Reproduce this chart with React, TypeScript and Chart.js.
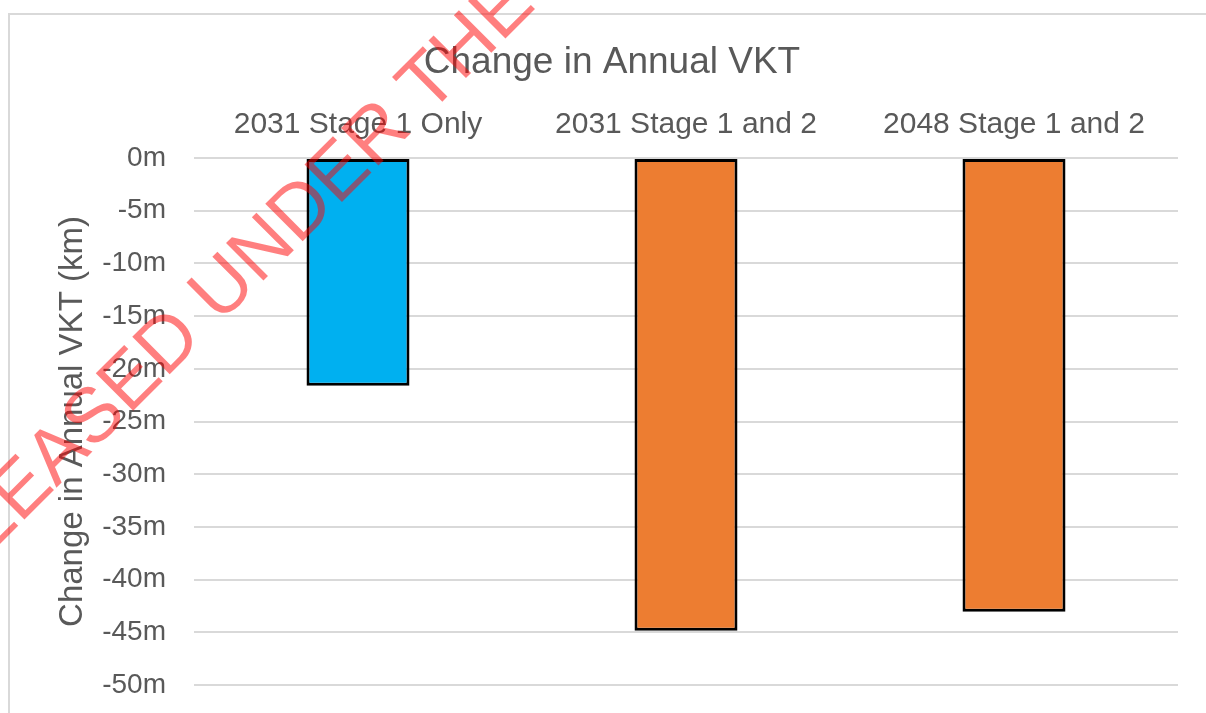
import React, { useEffect, useRef } from "react";
import { Chart, registerables } from "chart.js";

Chart.register(...registerables);

const chartTitle = "Change in Annual VKT";
const yAxisTitle = "Change in Annual VKT (km)";
const categories = ["2031 Stage 1 Only", "2031 Stage 1 and 2", "2048 Stage 1 and 2"];
const values = [-21.6, -44.85, -43.05];
const barColors = ["#00B0F0", "#ED7D31", "#ED7D31"];
const yMin = -50;
const yMax = 0;
const yStep = 5;
const watermarkText = "RELEASED UNDER THE OFFICIAL INFORMATION ACT";

const FONT = '"Liberation Sans", Arial, sans-serif';
const TEXT = "#595959";

const framePlugin = {
  id: "frame",
  beforeDraw(chart: any) {
    const ctx = chart.ctx;
    ctx.save();
    ctx.fillStyle = "#ffffff";
    ctx.fillRect(0, 0, chart.width, chart.height);
    ctx.strokeStyle = "#d9d9d9";
    ctx.lineWidth = 2;
    ctx.strokeRect(9, 14, chart.width + 20, chart.height + 20);
    ctx.restore();
  },
};

const titlePlugin = {
  id: "customTitle",
  afterDraw(chart: any) {
    const ctx = chart.ctx;
    ctx.save();
    ctx.font = `37px ${FONT}`;
    ctx.fillStyle = TEXT;
    ctx.textAlign = "center";
    ctx.textBaseline = "alphabetic";
    ctx.fillText(chartTitle, 612, 73);
    ctx.restore();
  },
};

const watermarkPlugin = {
  id: "watermark",
  afterDraw(chart: any) {
    const ctx = chart.ctx;
    ctx.save();
    ctx.translate(-86, 630);
    ctx.rotate(-Math.PI / 4);
    ctx.font = `77px ${FONT}`;
    ctx.fillStyle = "rgba(255,0,0,0.5)";
    ctx.textAlign = "left";
    ctx.textBaseline = "alphabetic";
    ctx.fillText(watermarkText, 0, 0);
    ctx.restore();
  },
};

export default function App() {
  const ref = useRef<HTMLCanvasElement | null>(null);
  useEffect(() => {
    if (!ref.current) return;
    const chart = new Chart(ref.current, {
      type: "bar",
      data: {
        labels: categories,
        datasets: [
          {
            data: values,
            backgroundColor: barColors,
            borderColor: "#000000",
            borderWidth: 3,
            borderSkipped: false,
            barPercentage: 0.314,
            categoryPercentage: 1,
          },
        ],
      },
      options: {
        animation: false,
        responsive: false,
        devicePixelRatio: 1,
        layout: { padding: { left: 0, top: 0, right: 28, bottom: 28 } },
        plugins: {
          legend: { display: false },
          tooltip: { enabled: false },
          title: { display: false },
        },
        scales: {
          x: {
            position: "top",
            grid: { display: false },
            border: { display: false },
            ticks: {
              color: TEXT,
              font: { family: FONT, size: 30, lineHeight: 1 },
              padding: 10,
              maxRotation: 0,
              autoSkip: false,
            },
            afterFit(scale: any) {
              scale.height = 158;
              scale.paddingLeft = 0;
              scale.paddingRight = 0;
            },
          },
          y: {
            min: yMin,
            max: yMax,
            grid: { color: "#d9d9d9", lineWidth: 2, drawTicks: false },
            border: { display: false },
            ticks: {
              stepSize: yStep,
              color: TEXT,
              font: { family: FONT, size: 28 },
              padding: 28,
              callback: (v: any) => `${v}m`,
            },
            title: {
              display: true,
              text: yAxisTitle,
              color: TEXT,
              font: { family: FONT, size: 33, lineHeight: 1 },
              padding: { top: 56, bottom: 0 },
            },
            afterFit(scale: any) {
              scale.width = 194;
              scale.paddingTop = 0;
              scale.paddingBottom = 0;
            },
          },
        },
      },
      plugins: [framePlugin, titlePlugin, watermarkPlugin],
    });
    return () => chart.destroy();
  }, []);
  return (
    <div style={{ position: "fixed", left: 0, top: 0, width: 1206, height: 713 }}>
      <canvas ref={ref} width={1206} height={713} style={{ width: 1206, height: 713 }} />
    </div>
  );
}
